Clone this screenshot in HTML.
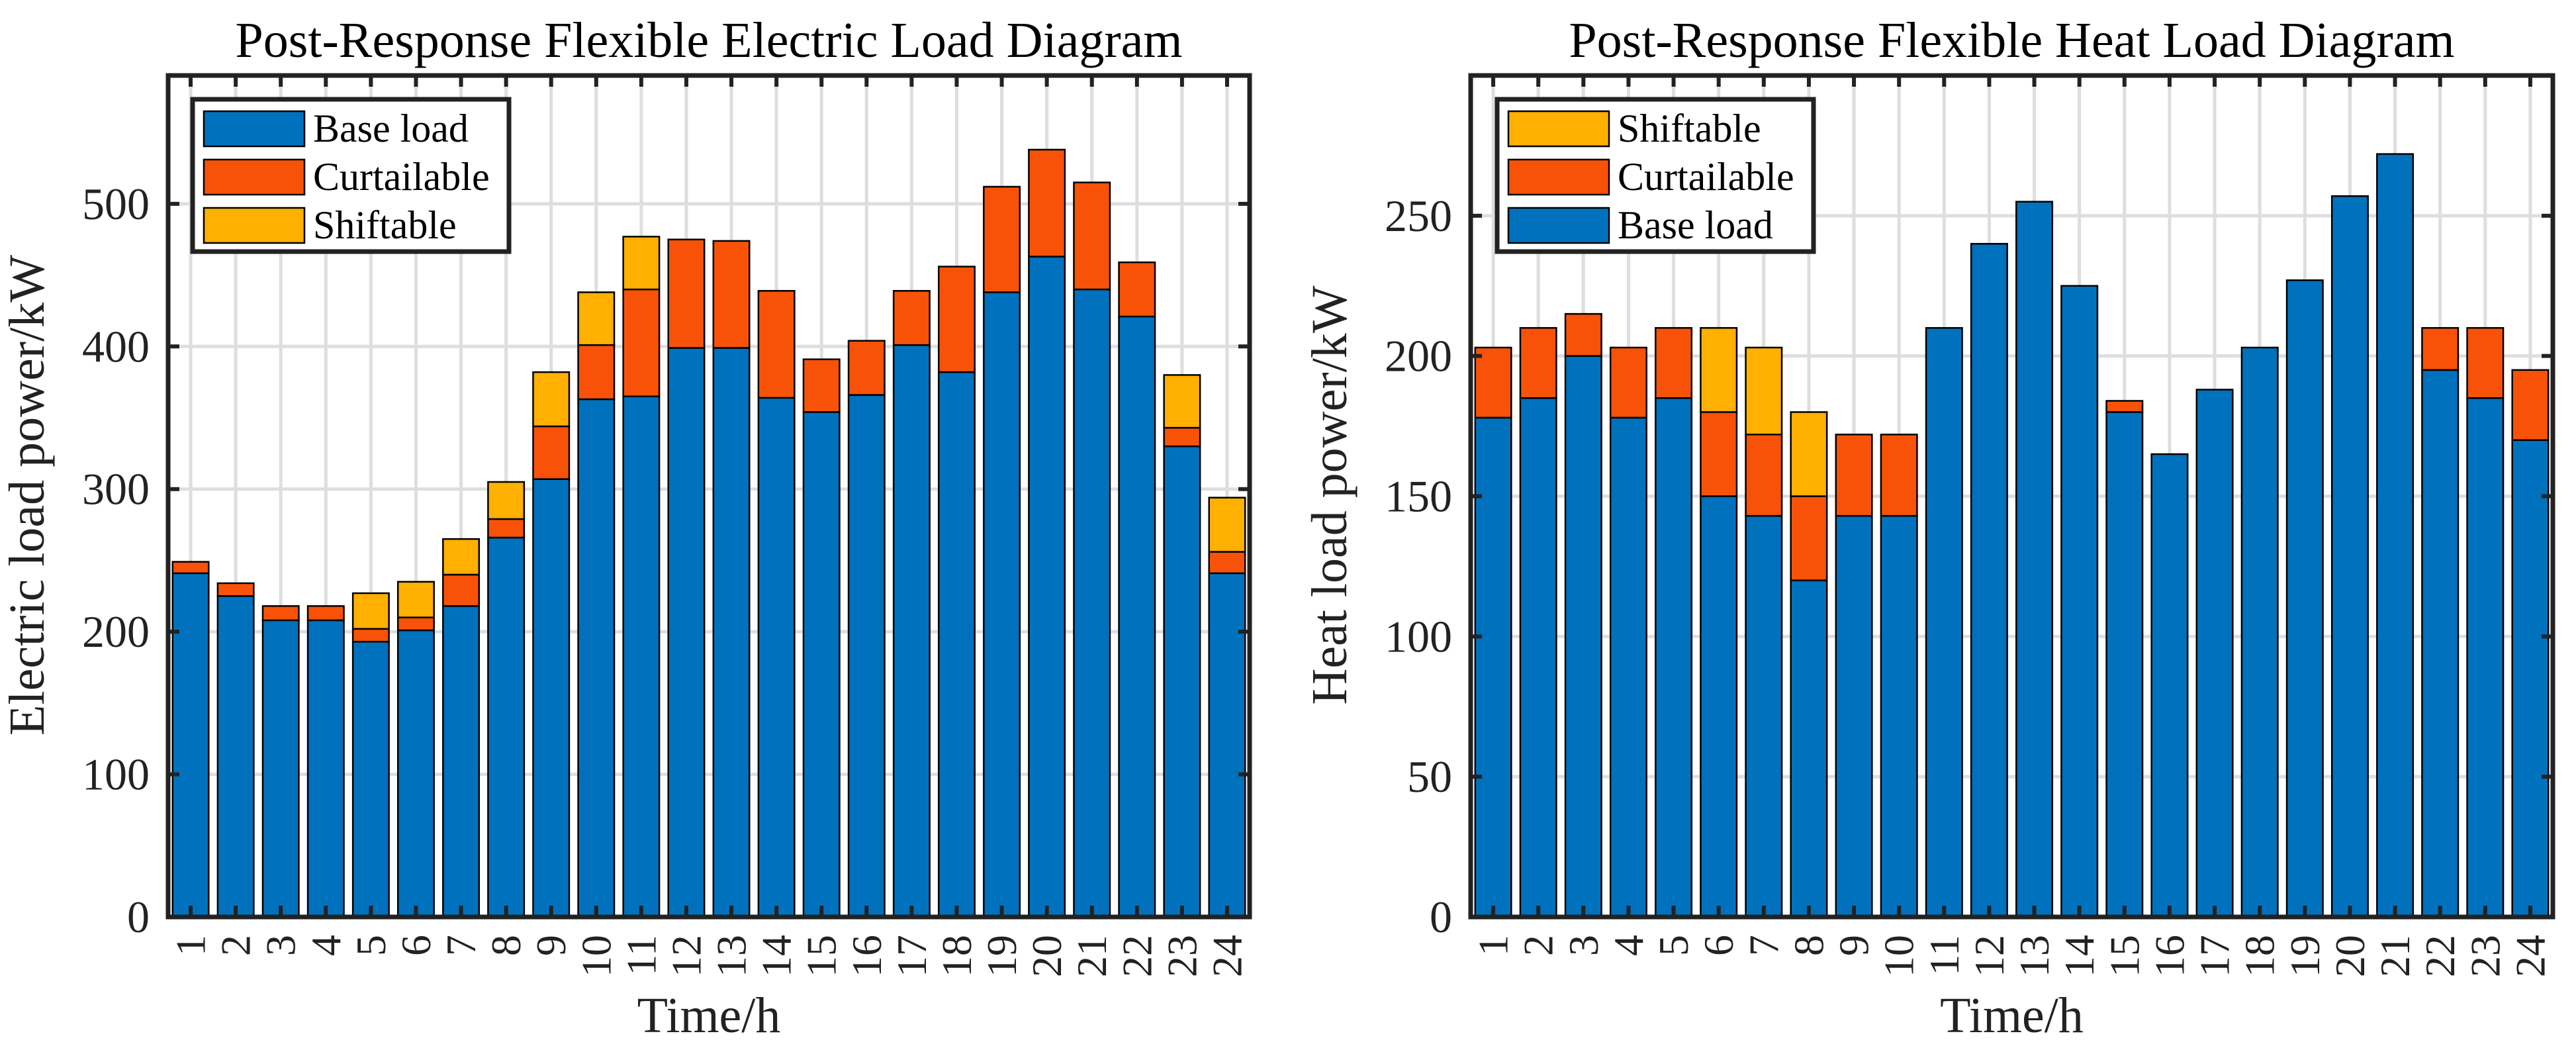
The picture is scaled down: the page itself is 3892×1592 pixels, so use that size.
<!DOCTYPE html>
<html><head><meta charset="utf-8">
<style>
html,body{margin:0;padding:0;background:#fff;}
svg{display:block;font-family:"Liberation Serif",serif;}
</style></head>
<body>
<svg id="fig" width="3892" height="1592" viewBox="0 0 3892 1592" xmlns="http://www.w3.org/2000/svg"></svg>
<script>
// ---- Electric chart data ----
const hours = [1,2,3,4,5,6,7,8,9,10,11,12,13,14,15,16,17,18,19,20,21,22,23,24];
const elecBase  = [241,225,208,208,193,201,218,266,307,363,365,399,399,364,354,366,401,382,438,463,440,421,330,241];
const elecCurt  = [8,9,10,10,9,9,22,13,37,38,75,76,75,75,37,38,38,74,74,75,75,38,13,15];
const elecShift = [0,0,0,0,25,25,25,26,38,37,37,0,0,0,0,0,0,0,0,0,0,0,37,38];
const elecTicks = [0,100,200,300,400,500];
// ---- Heat chart data ----
const heatBase  = [178,185,200,178,185,150,143,120,143,143,210,240,255,225,180,165,188,203,227,257,272,195,185,170];
const heatCurt  = [25,25,15,25,25,30,29,30,29,29,0,0,0,0,4,0,0,0,0,0,0,15,25,25];
const heatShift = [0,0,0,0,0,30,31,30,0,0,0,0,0,0,0,0,0,0,0,0,0,0,0,0];
const heatTicks = [0,50,100,150,200,250];

const NS = "http://www.w3.org/2000/svg";
const svg = document.getElementById('fig');
const C_BASE = "#0072BD", C_CURT = "#F85208", C_SHIFT = "#FFB000";
function mk(tag, attrs, parent){
  const e = document.createElementNS(NS, tag);
  for (const k in attrs) e.setAttribute(k, attrs[k]);
  (parent||svg).appendChild(e);
  return e;
}

function drawChart(o){
  const g = mk('g', {});
  
  
  const L=o.left, R=o.right, T=114, B=1385;
  const xs = h => L + (h - 0.5) / 24 * (R - L);
  const ys = v => B - v / o.ymax * (B - T);
  // grid
  o.ticks.forEach(t => {
    const l = mk('line', {x1:L, x2:R, y1:ys(t), y2:ys(t), stroke:"#dedede", 'stroke-width':5}, g);
    
    
  });
  hours.forEach(h => {
    const l = mk('line', {x1:xs(h), x2:xs(h), y1:T, y2:B, stroke:"#dedede", 'stroke-width':5}, g);
    
    
  });
  // bars
  const bw = 0.8 * (R - L) / 24;
  hours.forEach((h, i) => {
    let acc = 0;
    o.order.forEach(s => {
      const v = s.vals[i];
      if (v <= 0) return;
      const r = mk('rect', {x:xs(h)-bw/2, y:ys(acc+v), width:bw, height:ys(acc)-ys(acc+v), fill:s.color, stroke:"#000", 'stroke-width':2.5}, g);
      
      
      acc += v;
    });
  });
  // ticks
  o.ticks.forEach(t => {
    mk('line', {x1:L, x2:L+17, y1:ys(t), y2:ys(t), stroke:"#222", 'stroke-width':6}, g);
    mk('line', {x1:R, x2:R-17, y1:ys(t), y2:ys(t), stroke:"#222", 'stroke-width':6}, g);
    const tx = mk('text', {x:L-28, y:ys(t), 'text-anchor':'end', 'dominant-baseline':'central', 'font-size':68, fill:"#222"}, g);
    tx.textContent = t;
    
    
  });
  hours.forEach(h => {
    mk('line', {x1:xs(h), x2:xs(h), y1:B, y2:B-17, stroke:"#222", 'stroke-width':6}, g);
    mk('line', {x1:xs(h), x2:xs(h), y1:T, y2:T+17, stroke:"#222", 'stroke-width':6}, g);
    const tx = mk('text', {x:0, y:0, 'text-anchor':'end', 'dominant-baseline':'central', 'font-size':64, fill:"#222", transform:`translate(${xs(h)},1412) rotate(-90)`}, g);
    tx.textContent = h;
    
    
  });
  // axes box
  const box = mk('rect', {x:L, y:T, width:R-L, height:B-T, fill:"none", stroke:"#222", 'stroke-width':7}, g);
  
  
  // title & labels
  const ti = mk('text', {x:(L+R)/2, y:86, 'text-anchor':'middle', 'font-size':76, fill:"#000"}, g);
  ti.textContent = o.title;
  
  
  const xl = mk('text', {x:(L+R)/2, y:1559, 'text-anchor':'middle', 'font-size':76, fill:"#222"}, g);
  xl.textContent = "Time/h";
  
  
  const yl = mk('text', {x:0, y:0, 'text-anchor':'middle', 'font-size':76, fill:"#222", transform:`translate(${o.ylabelX},748) rotate(-90)`}, g);
  yl.textContent = o.ylabel;
  
  
  // legend
  const lg = mk('g', {}, g);
  
  
  mk('rect', {x:o.legX, y:150, width:478, height:230, fill:"#fff", stroke:"#222", 'stroke-width':7}, lg);
  o.legend.forEach((s, k) => {
    const y0 = 168 + k * 73;
    const e = mk('g', {}, lg);
    
    
    mk('rect', {x:o.legX+17, y:y0, width:152, height:53, fill:s.color, stroke:"#000", 'stroke-width':2.5}, e);
    const t = mk('text', {x:o.legX+182, y:y0+46, 'font-size':60, fill:"#000"}, e);
    t.textContent = s.label;
  });
}

const eB={key:'base',vals:elecBase,color:C_BASE,label:'Base load'};
const eC={key:'curtailable',vals:elecCurt,color:C_CURT,label:'Curtailable'};
const eS={key:'shiftable',vals:elecShift,color:C_SHIFT,label:'Shiftable'};
drawChart({name:'electric-load-chart', left:254, right:1888, ymax:590, ticks:elecTicks,
  order:[eB,eC,eS], legend:[eB,eC,eS], legX:291,
  title:'Post-Response Flexible Electric Load Diagram', ylabel:'Electric load power/kW', ylabelX:66});

const hB={key:'base',vals:heatBase,color:C_BASE,label:'Base load'};
const hC={key:'curtailable',vals:heatCurt,color:C_CURT,label:'Curtailable'};
const hS={key:'shiftable',vals:heatShift,color:C_SHIFT,label:'Shiftable'};
drawChart({name:'heat-load-chart', left:2222, right:3857, ymax:300, ticks:heatTicks,
  order:[hB,hC,hS], legend:[hS,hC,hB], legX:2262,
  title:'Post-Response Flexible Heat Load Diagram', ylabel:'Heat load power/kW', ylabelX:2034});
</script>
</body></html>
